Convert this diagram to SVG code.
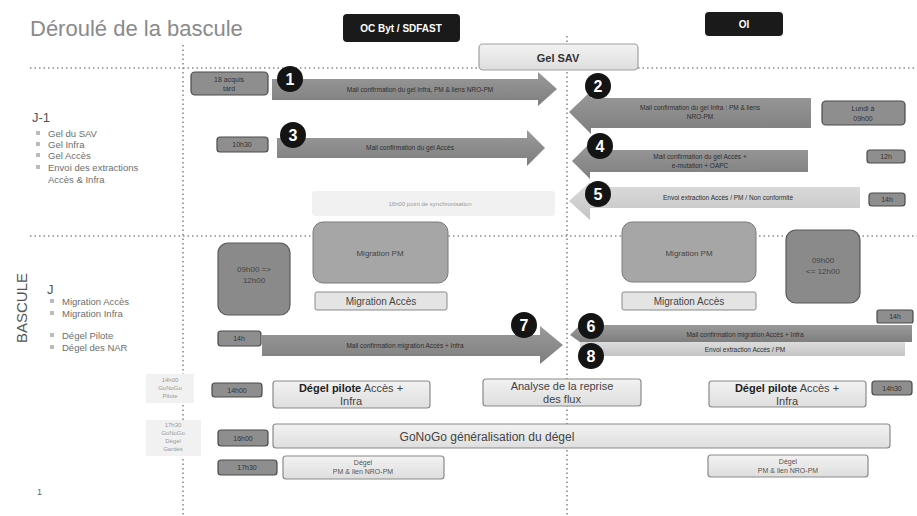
<svg xmlns="http://www.w3.org/2000/svg" width="917" height="516" viewBox="0 0 917 516">
<defs>
<linearGradient id="gDark" x1="0" y1="0" x2="0" y2="1"><stop offset="0" stop-color="#9a9a9a"/><stop offset="1" stop-color="#7e7e7e"/></linearGradient>
<linearGradient id="gLight" x1="0" y1="0" x2="0" y2="1"><stop offset="0" stop-color="#dcdcdc"/><stop offset="1" stop-color="#c4c4c4"/></linearGradient>
<linearGradient id="gBox" x1="0" y1="0" x2="0" y2="1"><stop offset="0" stop-color="#f2f2f2"/><stop offset="1" stop-color="#dedede"/></linearGradient>
</defs>
<style>
text{font-family:"Liberation Sans",Arial,sans-serif;}
.dot{stroke:#8a8a8a;stroke-width:1.6;stroke-dasharray:1.5 3;fill:none;}
.title{font-size:22px;fill:#8a8a8a;}
.hdr{fill:#1a1a1a;}
.hdrt{font-size:10px;font-weight:bold;fill:#fff;text-anchor:middle;}
.side{font-size:9.5px;fill:#6e6e6e;}
.sideh{font-size:13px;fill:#555;}
.bul{fill:#bbb;}
.time{fill:#8e8e8e;stroke:#4a4a4a;stroke-width:1.2;}
.timet{font-size:7px;fill:#333;text-anchor:middle;}
.arrD{fill:url(#gDark);}
.arrL{fill:url(#gLight);}
.arrt{font-size:6.5px;fill:#2e2e2e;text-anchor:middle;}
.badge{fill:#141414;}
.badget{font-size:16px;font-weight:bold;fill:#fff;text-anchor:middle;}
.big{fill:#a6a6a6;stroke:#7a7a7a;stroke-width:1;}
.bigd{fill:#8a8a8a;stroke:#5a5a5a;stroke-width:1.2;}
.bigt{font-size:8px;fill:#444;text-anchor:middle;}
.lbox{fill:url(#gBox);stroke:#8a8a8a;stroke-width:1.2;}
.lboxt{font-size:11px;fill:#444;text-anchor:middle;}
.small{font-size:7px;fill:#555;text-anchor:middle;}
.pale{fill:#f1f1f1;}
.palet{font-size:6px;fill:#999;text-anchor:middle;}
</style>

<text x="30" y="36" class="title">Déroulé de la bascule</text>

<g id="connectors">
<line class="dot" x1="30" y1="68" x2="479" y2="68"/>
<line class="dot" x1="638" y1="68" x2="917" y2="68"/>
<line class="dot" x1="30" y1="236" x2="917" y2="236"/>
<line class="dot" x1="183" y1="45" x2="183" y2="516"/>
<line class="dot" x1="567" y1="36" x2="567" y2="516"/>
</g>

<g id="hdr-oc"><rect class="hdr" x="343" y="14" width="117" height="28" rx="4"/><text x="401" y="32" class="hdrt">OC Byt / SDFAST</text></g>
<g id="hdr-oi"><rect class="hdr" x="705" y="12" width="78" height="24" rx="4"/><text x="744" y="28" class="hdrt">OI</text></g>
<g id="gel-sav"><rect x="479" y="44" width="159" height="26" rx="4" fill="url(#gBox)" stroke="#a0a0a0" stroke-width="1.2"/><text x="558" y="62" font-size="11" font-weight="bold" fill="#333" text-anchor="middle">Gel SAV</text></g>

<g id="side-j1">
<text x="32" y="122" class="sideh">J-1</text>
<rect class="bul" x="36" y="131" width="4" height="4"/><text x="48" y="137" class="side">Gel du SAV</text>
<rect class="bul" x="36" y="142" width="4" height="4"/><text x="48" y="148" class="side">Gel Infra</text>
<rect class="bul" x="36" y="153" width="4" height="4"/><text x="48" y="159" class="side">Gel Accès</text>
<rect class="bul" x="36" y="165" width="4" height="4"/><text x="48" y="171" class="side">Envoi des extractions</text>
<text x="48" y="183" class="side">Accès &amp; Infra</text>
</g>
<g id="side-j">
<text x="0" y="0" font-size="15" fill="#555" transform="translate(27 343) rotate(-90)">BASCULE</text>
<text x="47" y="294" class="sideh">J</text>
<rect class="bul" x="50" y="299" width="4" height="4"/><text x="62" y="305" class="side">Migration Accès</text>
<rect class="bul" x="50" y="311" width="4" height="4"/><text x="62" y="317" class="side">Migration Infra</text>
<rect class="bul" x="50" y="333" width="4" height="4"/><text x="62" y="339" class="side">Dégel Pilote</text>
<rect class="bul" x="50" y="345" width="4" height="4"/><text x="62" y="351" class="side">Dégel des NAR</text>
<text x="37" y="495" font-size="9" fill="#666">1</text>
</g>

<g id="step1">
<rect class="time" x="191" y="72" width="77" height="23" rx="4"/><text x="229" y="82" class="timet">18 acquis</text><text x="229" y="91" class="timet">tard</text>
<path class="arrD" d="M272 79 H538 V72 L557 89 L538 106 V100 H272 Z"/>
<text x="420" y="92" class="arrt">Mail confirmation du gel Infra, PM &amp; liens NRO-PM</text>
<circle class="badge" cx="290" cy="79" r="13"/><text x="290" y="85" class="badget">1</text>
</g>

<g id="step2">
<path class="arrD" d="M811 98 H591 V91 L569 112 L591 134 V128 H811 Z"/>
<text x="700" y="110" class="arrt">Mail confirmation du gel Infra : PM &amp; liens</text><text x="700" y="119" class="arrt">NRO-PM</text>
<circle class="badge" cx="598" cy="86" r="13"/><text x="598" y="92" class="badget">2</text>
<rect class="time" x="822" y="101" width="83" height="24" rx="4"/><text x="863" y="111" class="timet">Lundi à</text><text x="863" y="121" class="timet">09h00</text>
</g>

<g id="step3">
<rect class="time" x="217" y="137" width="51" height="15" rx="3"/><text x="242" y="147" class="timet">10h30</text>
<path class="arrD" d="M277 138 H527 V130 L545 148 L527 166 V158 H277 Z"/>
<text x="410" y="150" class="arrt">Mail confirmation du gel Accès</text>
<circle class="badge" cx="293" cy="135" r="13"/><text x="293" y="141" class="badget">3</text>
</g>

<g id="step4">
<path class="arrD" d="M808 150 H590 V143 L572 161 L590 179 V172 H808 Z"/>
<text x="700" y="159" class="arrt">Mail confirmation du gel Accès +</text><text x="700" y="168" class="arrt">e-mutation + OAPC</text>
<circle class="badge" cx="600" cy="146" r="13"/><text x="600" y="152" class="badget">4</text>
<rect class="time" x="867" y="150" width="38" height="13" rx="3"/><text x="886" y="159" class="timet">12h</text>
</g>

<g id="step5">
<path class="arrL" d="M860 187 H590 V182 L569 201 L590 220 V208 H860 Z"/>
<text x="728" y="200" class="arrt">Envoi extraction Accès / PM / Non conformité</text>
<circle class="badge" cx="598" cy="194" r="13"/><text x="598" y="200" class="badget">5</text>
<rect class="time" x="869" y="193" width="36" height="13" rx="3"/><text x="887" y="202" class="timet">14h</text>
</g>

<g id="sync"><rect class="pale" x="312" y="191" width="243" height="25" rx="3"/><text x="430" y="206" class="palet" font-size="7">16h00 point de synchronisation</text></g>

<g id="mig-left">
<rect class="bigd" x="218" y="243" width="72" height="72" rx="10"/><text x="254" y="272" class="bigt">09h00 =&gt;</text><text x="254" y="283" class="bigt">12h00</text>
<rect class="big" x="313" y="222" width="135" height="61" rx="10"/><text x="380" y="256" class="bigt">Migration PM</text>
<rect x="315" y="292" width="132" height="18" rx="2" fill="#e4e4e4" stroke="#8a8a8a" stroke-width="1"/><text x="381" y="305" font-size="10" fill="#444" text-anchor="middle">Migration Accès</text>
</g>
<g id="mig-right">
<rect class="big" x="622" y="222" width="134" height="60" rx="10"/><text x="689" y="256" class="bigt">Migration PM</text>
<rect x="622" y="292" width="134" height="18" rx="2" fill="#e4e4e4" stroke="#8a8a8a" stroke-width="1"/><text x="689" y="305" font-size="10" fill="#444" text-anchor="middle">Migration Accès</text>
<rect class="bigd" x="786" y="230" width="74" height="73" rx="10"/><text x="823" y="263" class="bigt">09h00</text><text x="823" y="274" class="bigt">&lt;= 12h00</text>
</g>

<g id="step7">
<rect class="time" x="218" y="331" width="43" height="15" rx="3"/><text x="239" y="341" class="timet">14h</text>
<path class="arrD" d="M262 335 H540 V326 L563 345 L540 364 V356 H262 Z"/>
<text x="405" y="348" class="arrt">Mail confirmation migration Accès + Infra</text>
<circle class="badge" cx="524" cy="325" r="13"/><text x="524" y="331" class="badget">7</text>
</g>
<g id="step6">
<rect class="time" x="877" y="310" width="36" height="13" rx="2"/><text x="895" y="319" class="timet">14h</text>
<path class="arrD" d="M912 325 H580 L570 335 L580 342 H912 Z"/>
<text x="745" y="337" class="arrt">Mail confirmation migration Accès + Infra</text>
<circle class="badge" cx="591" cy="326" r="13"/><text x="591" y="332" class="badget">6</text>
</g>
<g id="step8">
<rect class="arrL" x="580" y="342" width="325" height="14"/>
<text x="745" y="352" class="arrt">Envoi extraction Accès / PM</text>
<circle class="badge" cx="591" cy="356" r="13"/><text x="591" y="362" class="badget">8</text>
</g>

<g id="gonogo-pilote">
<rect class="pale" x="146" y="374" width="48" height="29"/><text x="170" y="382" class="palet">14h00</text><text x="170" y="390" class="palet">GoNoGo</text><text x="170" y="398" class="palet">Pilote</text>
<rect class="time" x="212" y="383" width="50" height="14" rx="3"/><text x="237" y="393" class="timet">14h00</text>
<rect class="lbox" x="273" y="381" width="157" height="27" rx="3"/><text x="351" y="392" class="lboxt"><tspan font-weight="bold" fill="#222">Dégel pilote</tspan> Accès +</text><text x="351" y="405" class="lboxt">Infra</text>
</g>
<g id="analyse"><rect class="lbox" x="483" y="379" width="158" height="27" rx="3"/><text x="562" y="390" class="lboxt">Analyse de la reprise</text><text x="562" y="403" class="lboxt">des flux</text></g>
<g id="degel-pilote-oi">
<rect class="lbox" x="709" y="381" width="157" height="26" rx="3"/><text x="787" y="392" class="lboxt"><tspan font-weight="bold" fill="#222">Dégel pilote</tspan> Accès +</text><text x="787" y="405" class="lboxt">Infra</text>
<rect class="time" x="872" y="381" width="40" height="14" rx="3"/><text x="892" y="391" class="timet">14h30</text>
</g>
<g id="gonogo-gen">
<rect class="pale" x="146" y="420" width="55" height="36"/><text x="173" y="427" class="palet">17h30</text><text x="173" y="435" class="palet">GoNoGo</text><text x="173" y="443" class="palet">Dégel</text><text x="173" y="451" class="palet">Gardes</text>
<rect class="time" x="218" y="430" width="50" height="16" rx="3"/><text x="243" y="441" class="timet">16h00</text>
<rect class="lbox" x="273" y="424" width="617" height="24" rx="3"/><text x="487" y="441" font-size="12" fill="#444" text-anchor="middle">GoNoGo généralisation du dégel</text>
</g>
<g id="degel-pm">
<rect class="time" x="218" y="460" width="59" height="15" rx="3"/><text x="247" y="470" class="timet">17h30</text>
<rect class="lbox" x="283" y="456" width="161" height="23" rx="3"/><text x="363" y="465" class="small">Dégel</text><text x="363" y="474" class="small">PM &amp; lien NRO-PM</text>
<rect class="lbox" x="708" y="455" width="160" height="22" rx="3"/><text x="788" y="464" class="small">Dégel</text><text x="788" y="473" class="small">PM &amp; lien NRO-PM</text>
</g>
</svg>
